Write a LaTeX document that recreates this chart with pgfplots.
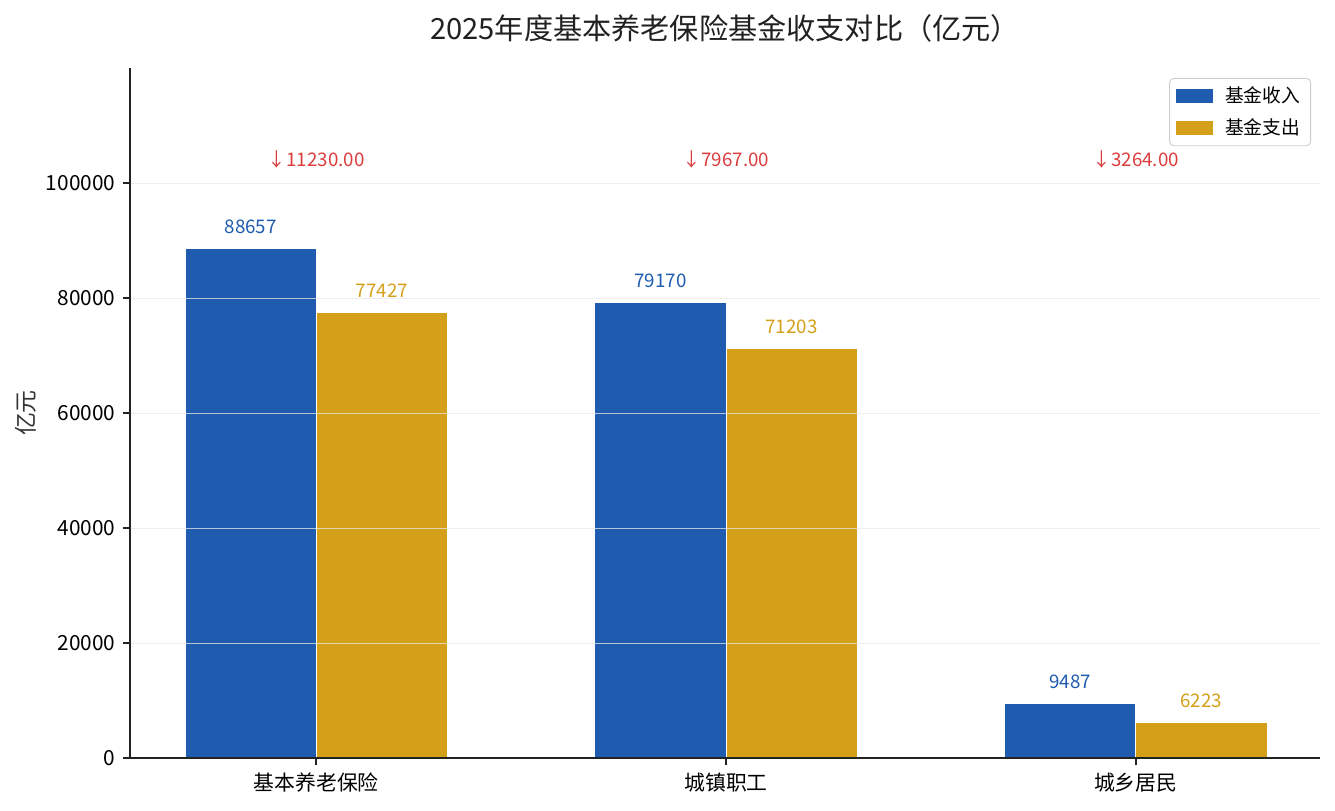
\documentclass[border=0pt]{standalone}
\usepackage{pgfplots}
\pgfplotsset{compat=1.18}
\usepackage{pgfplotstable}
\usepackage{fontspec}
\setmainfont{Noto Sans CJK SC}
\definecolor{cin}{HTML}{1F5BAF}
\definecolor{cout}{HTML}{D4A01A}
\definecolor{cdiff}{HTML}{DC3C3C}
\definecolor{spine}{HTML}{222222}

\pgfplotstableread{
x y label
0 88657 88657
1 79170 79170
2 9487 9487
}\income
\pgfplotstableread{
x y label
0 77427 77427
1 71203 71203
2 6223 6223
}\expense
\pgfplotstableread{
x y label
0 102783 11230.00
1 102783 7967.00
2 102783 3264.00
}\diffs

\begin{document}
\begin{tikzpicture}
\path[use as bounding box] (0,0) rectangle (640.8pt,388.8pt);
\begin{axis}[
  at={(62.4pt,24.96pt)}, anchor=south west,
  scale only axis, width=571.2pt, height=331.2pt,
  ybar, bar width=0.32,
  xmin=-0.4545, xmax=2.4495, ymin=0, ymax=120000,
  xtick={0,1,2}, xticklabels={基本养老保险,城镇职工,城乡居民},
  ytick={0,20000,40000,60000,80000,100000},
  scaled y ticks=false,
  /pgf/number format/.cd, assume math mode=true, 1000 sep={}, fixed, precision=0,
  /pgfplots/.cd,
  axis x line*=bottom, axis y line*=left,
  axis line style={spine, line width=0.8pt},
  tick style={spine, line width=0.8pt},
  major tick length=3.5pt, tick align=outside,
  ticklabel style={font=\fontsize{10}{12}\selectfont, text=black},
  ymajorgrids, grid style={black!9, line width=0.45pt, opacity=0.75},
  axis on top,
  every axis y label/.style={at={(rel axis cs:0,0.5)}, xshift=-49.9pt, rotate=90, anchor=center, font=\fontsize{11}{12}\selectfont, text=black!80},
  ylabel={亿元},
  legend style={at={(rel axis cs:1,1)}, anchor=north east, xshift=-4.3pt, yshift=-4.8pt,
    draw=black!20, rounded corners=2pt, font=\fontsize{9}{11}\selectfont,
    inner xsep=3pt, inner ysep=2pt, row sep=2pt,
    nodes={inner sep=2pt}},
  legend cell align=left,
  clip=false,
]
\addplot[fill=cin, draw=white, line width=0.4pt, bar shift=-0.16,
  legend image code/.code={\fill[cin, sharp corners] (0pt,-3.1pt) rectangle (17.3pt,3.1pt);},
  nodes near coords, point meta=explicit symbolic,
  every node near coord/.append style={text=cin, font=\fontsize{9}{10}\selectfont, anchor=base, yshift=7.2pt, inner sep=0pt}]
  table[x=x,y=y,meta=label]{\income};
\addlegendentry{\hspace{4pt}基金收入}
\addplot[fill=cout, draw=white, line width=0.4pt, bar shift=0.16,
  legend image code/.code={\fill[cout, sharp corners] (0pt,-3.1pt) rectangle (17.3pt,3.1pt);},
  nodes near coords, point meta=explicit symbolic,
  every node near coord/.append style={text=cout, font=\fontsize{9}{10}\selectfont, anchor=base, yshift=7.2pt, inner sep=0pt}]
  table[x=x,y=y,meta=label]{\expense};
\addlegendentry{\hspace{4pt}基金支出}
\addplot[draw=none, fill=none, bar width=0, bar shift=0, forget plot,
  nodes near coords={↓\pgfplotspointmeta}, point meta=explicit symbolic,
  every node near coord/.append style={text=cdiff, font=\fontsize{9}{10}\selectfont, anchor=base, yshift=0pt, inner sep=0pt}]
  table[x=x,y=y,meta=label]{\diffs};
\node[font=\fontsize{14}{16}\selectfont, text=black!87, anchor=center] at (rel axis cs:0.5,1) [yshift=19.2pt] {2025年度基本养老保险基金收支对比（亿元）};
\end{axis}
\end{tikzpicture}
\end{document}
